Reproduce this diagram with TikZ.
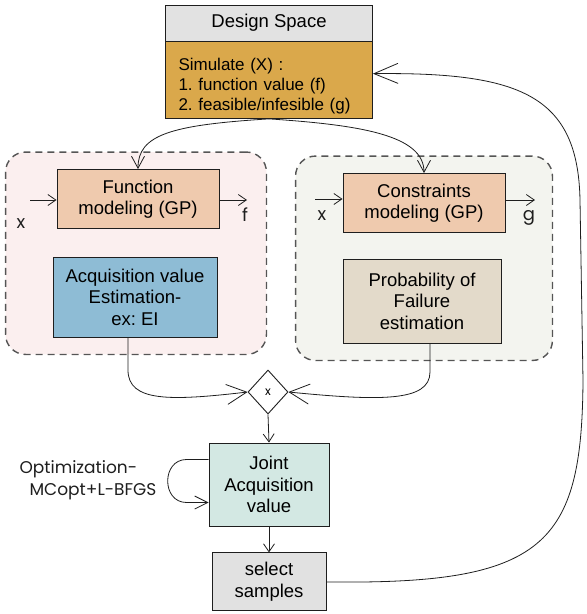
\documentclass[tikz,border=0pt]{standalone}
\usepackage{fontspec}
\setmainfont{Liberation Sans}
\newfontfamily\handfont{Poppins}
\usetikzlibrary{arrows.meta,positioning,fit,backgrounds,shapes.geometric}
\frenchspacing
\definecolor{cInk}{HTML}{1E1E1E}
\definecolor{cDash}{HTML}{555555}
\definecolor{cSpace}{HTML}{E2E2E2}
\definecolor{cSim}{HTML}{DAA84B}
\definecolor{cModel}{HTML}{EFCAAE}
\definecolor{cAcq}{HTML}{8EBCD5}
\definecolor{cFail}{HTML}{E3DACA}
\definecolor{cJoint}{HTML}{D3E8E3}
\definecolor{cSel}{HTML}{E1E1E1}
\definecolor{cLeft}{HTML}{FBEFEF}
\definecolor{cRight}{HTML}{F3F4EF}
\tikzset{
  box/.style    = {draw=cInk, line width=0.9pt, align=center, inner sep=4pt,
                   font=\fontsize{18.5}{21.5}\selectfont},
  spacebox/.style = {box, fill=cSpace, minimum width=207pt, minimum height=36pt},
  simbox/.style = {box, fill=cSim, align=left, text width=181pt, inner xsep=13pt,
                   minimum height=75pt, font=\fontsize{17}{20}\selectfont},
  model/.style  = {box, fill=cModel, minimum width=162pt, minimum height=59pt},
  grp/.style    = {draw=cDash, line width=1.4pt, dash pattern=on 7pt off 5pt,
                   rounded corners=20pt, inner xsep=47pt, inner ysep=17pt},
  flow/.style   = {-{Straight Barb[length=8pt,width=11pt]}, line width=0.8pt, draw=cInk},
  bigflow/.style = {flow, -{Straight Barb[length=20pt,width=20pt]}},
  hand/.style   = {font=\handfont\fontsize{17}{22}\selectfont, text=cInk},
  var/.style    = {hand, font=\handfont\fontsize{18}{18}\selectfont},
}
\begin{document}
\begin{tikzpicture}[x=1pt, y=-1pt]
  \useasboundingbox (0,0) rectangle (587,614);
  % top: design space + simulation
  \node[spacebox] (ds) at (269,23) {Design Space};
  \node[simbox, below=0pt of ds] (sim)
    {\rule{0pt}{25pt}Simulate (X) :\\ 1. function value (f)\\ 2. feasible/infesible (g)};
  % objective side
  \node[model] (fm) at (138,199) {Function\\ modeling (GP)};
  \node[box, fill=cAcq, minimum width=164pt, minimum height=80pt] (acq) at (135,297)
    {Acquisition value\\ Estimation-\\ ex: EI};
  % constraint side
  \node[model] (cm) at (424,203) {Constraints\\ modeling (GP)};
  \node[box, fill=cFail, minimum width=158pt, minimum height=84pt] (pf) at (422,301)
    {Probability of\\ Failure\\ estimation};
  \begin{scope}[on background layer]
    \node[grp, fill=cLeft, fit=(fm)(acq)] (left) {};
    \node[grp, fill=cRight, fit=(cm)(pf)] (right) {};
  \end{scope}
  % product + joint acquisition
  \node[draw=cInk, line width=0.9pt, diamond, fill=white, inner sep=0pt,
        minimum width=40pt, minimum height=44pt, font=\handfont\fontsize{12}{12}\selectfont]
    (mul) at (268,392) {x};
  \node[box, fill=cJoint, minimum width=120pt, minimum height=83pt] (joint) at (269,484.5)
    {Joint\\ Acquisition\\ value};
  \node[box, fill=cSel, minimum width=114pt, minimum height=58pt, below=26pt of joint] (sel)
    {select\\ samples};
  % inputs / outputs
  \coordinate (xinL) at (30,200);
  \coordinate (foutL) at (247,200);
  \coordinate (xinR) at (315,199);
  \coordinate (goutR) at (535,200);
  \node[var] (xL) at (21,224) {x};
  \node[var] (fL) at (245,215) {f};
  \node[var] (xR) at (322,216) {x};
  \node[var] (gR) at (529,218) {g};
  \draw[flow] (xinL) -- (fm.west |- xinL);
  \draw[flow] (fm.east |- foutL) -- (foutL);
  \draw[flow] (xinR) -- (cm.west |- xinR);
  \draw[flow] (cm.east |- goutR) -- (goutR);
  % simulation feeds both models
  \draw[flow, -{Straight Barb[length=12pt,width=13pt]}] (sim.south)
    .. controls (170,125) and (138,135) .. (fm.north);
  \draw[flow, -{Straight Barb[length=12pt,width=13pt]}] (sim.south)
    .. controls (360,125) and (424,135) .. (cm.north);
  % combine
  \draw[bigflow] ([xshift=-7pt]acq.south) -- (128,370)
    .. controls (128,402) and (170,401) .. (mul.west);
  \draw[bigflow] ([xshift=8pt]pf.south) -- (430,372)
    .. controls (430,402) and (380,401) .. (mul.east);
  \draw[flow] (mul.south) -- (joint.north);
  \draw[flow] (joint.south) -- (sel.north);
  % inner optimisation loop
  \draw[flow, -{Straight Barb[length=13pt,width=13pt]}] ([yshift=25pt]joint.west) -- ++(-22,0)
    to[out=180,in=180,looseness=1.5] ++(0,43) -- ([yshift=-18pt]joint.west);
  \node[hand, align=left] (opt) at (88,480)
    {Optimization-\\ \hspace*{10pt}MCopt+L-BFGS};
  % back to the simulator
  \draw[flow, -{Straight Barb[length=24pt,width=20pt]}] (sel.east)
    .. controls (545,585) and (582,545) .. (583,380) -- (580,200)
    .. controls (578,95) and (520,72) .. ([yshift=6.5pt]sim.east);
\end{tikzpicture}
\end{document}
